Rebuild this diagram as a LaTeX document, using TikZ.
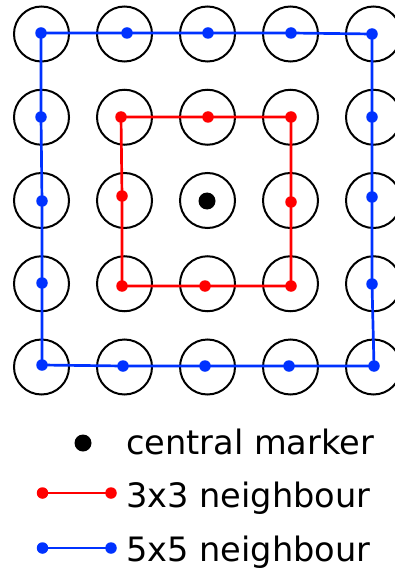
\documentclass[tikz,border=0pt]{standalone}
\usepackage{fontspec}
\setmainfont{DejaVu Sans}
\usepackage{xcolor}
\usetikzlibrary{positioning}
\definecolor{nbred}{RGB}{255,0,0}
\definecolor{nbblue}{RGB}{0,50,255}
\begin{document}
\begin{tikzpicture}[
    x=1pt, y=-1pt,
    font=\fontsize{33.6}{40}\selectfont,
    cell/.style={draw=black, line width=2pt, circle, minimum size=55pt, inner sep=0pt},
    redline/.style={draw=nbred, line width=2.7pt},
    blueline/.style={draw=nbblue, line width=2.7pt},
    dotmark/.style={circle, inner sep=0pt, minimum size=11.5pt},
    legtext/.style={anchor=base west, inner sep=0pt}
  ]
    \useasboundingbox (0,0) rectangle (395,569);
    \clip (0,0) rectangle (395,569);
    % grid of cells
    \foreach \i in {0,...,4}
      \foreach \j in {0,...,4}
        \node[cell] (c\i\j) at ({41.5+83*\i},{34+83.25*\j}) {};
    \node[circle, fill=black, inner sep=0pt, minimum size=17pt] (centre) at (207,201) {};

    % 5x5 ring
    \coordinate (b1) at (41,33);   \coordinate (b2) at (127,33);
    \coordinate (b3) at (208,33);  \coordinate (b4) at (291,33);
    \coordinate (b5) at (372,34);  \coordinate (b6) at (372,117);
    \coordinate (b7) at (372,197); \coordinate (b8) at (372,284);
    \coordinate (b9) at (374,366); \coordinate (b10) at (289,366);
    \coordinate (b11) at (205,366);\coordinate (b12) at (123,366);
    \coordinate (b13) at (42,365); \coordinate (b14) at (42,283);
    \coordinate (b15) at (42,201); \coordinate (b16) at (41,117);
    \draw[blueline] (b1) -- (b2) -- (b3) -- (b4) -- (b5) -- (b6) -- (b7) -- (b8)
      -- (b9) -- (b10) -- (b11) -- (b12) -- (b13) -- (b14) -- (b15) -- (b16) -- cycle;
    \foreach \p in {b1,b2,b3,b4,b5,b6,b7,b8,b9,b10,b11,b12,b13,b14,b15,b16}
      \node[dotmark, fill=nbblue] at (\p) {};

    % 3x3 ring
    \coordinate (r1) at (121,117); \coordinate (r2) at (208,117);
    \coordinate (r3) at (291,117); \coordinate (r4) at (291,202);
    \coordinate (r5) at (291,286); \coordinate (r6) at (205,286);
    \coordinate (r7) at (122,286); \coordinate (r8) at (122,196);
    \draw[redline] (r1) -- (r2) -- (r3) -- (r4) -- (r5) -- (r6) -- (r7) -- (r8) -- cycle;
    \foreach \p in {r1,r2,r3,r4,r5,r6,r7,r8}
      \node[dotmark, fill=nbred] at (\p) {};

    % legend
    \node[circle, fill=black, inner sep=0pt, minimum size=17pt] (legdot) at (83,443) {};
    \node[legtext] (legcentral) at (126,454) {central marker};
    \coordinate (lra) at (42.5,493); \coordinate (lrb) at (111,493);
    \draw[redline] (lra) -- (lrb);
    \node[dotmark, fill=nbred] at (lra) {};
    \node[dotmark, fill=nbred] at (lrb) {};
    \node[legtext] (legred) at (126,507) {3x3 neighbour};
    \coordinate (lba) at (42.5,548); \coordinate (lbb) at (111,548);
    \draw[blueline] (lba) -- (lbb);
    \node[dotmark, fill=nbblue] at (lba) {};
    \node[dotmark, fill=nbblue] at (lbb) {};
    \node[legtext] (legblue) at (126,561) {5x5 neighbour};
  \end{tikzpicture}
\end{document}
